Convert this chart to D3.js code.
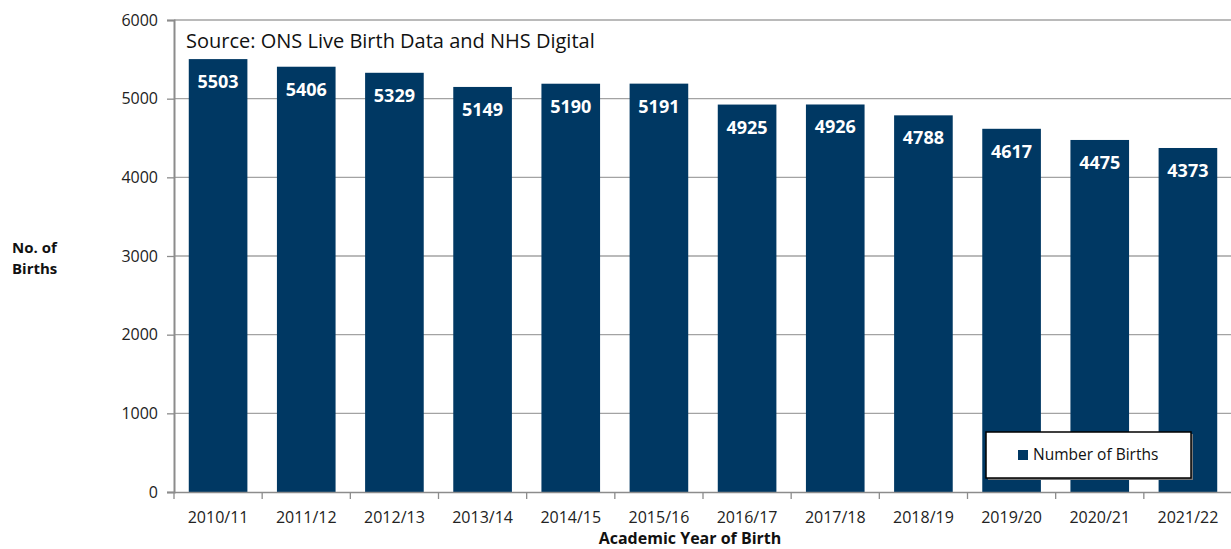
<!DOCTYPE html>
<html>
<head>
<meta charset="utf-8">
<script src="https://cdn.jsdelivr.net/npm/d3@7"></script>
<style>
  body { margin: 0; background: #fff; }
  svg { display: block; font-family: "Open Sans", sans-serif; }
</style>
</head>
<body>
<div id="chart"></div>
<script>
// data
var years = ["2010/11", "2011/12", "2012/13", "2013/14", "2014/15", "2015/16",
             "2016/17", "2017/18", "2018/19", "2019/20", "2020/21", "2021/22"];
var births = [5503, 5406, 5329, 5149, 5190, 5191, 4925, 4926, 4788, 4617, 4475, 4373];
var yTicks = [0, 1000, 2000, 3000, 4000, 5000, 6000];
var seriesName = "Number of Births";
var sourceText = "Source: ONS Live Birth Data and NHS Digital";

var W = 1231, H = 549;
var margin = { top: 20, right: -1, bottom: 57, left: 174 };
var barColor = "#003863";

var svg = d3.select("#chart").append("svg")
    .attr("width", W).attr("height", H);

var x = d3.scaleBand()
    .domain(years)
    .range([margin.left, W - margin.right])
    .paddingInner(0.335)
    .paddingOuter(0.1675);

var y = d3.scaleLinear()
    .domain([0, 6000])
    .range([H - margin.bottom, margin.top]);

// gridlines
svg.append("g")
  .selectAll("line")
  .data(yTicks.filter(function (d) { return d > 0; }))
  .enter().append("line")
    .attr("x1", margin.left).attr("x2", W - margin.right)
    .attr("y1", function (d) { return y(d); })
    .attr("y2", function (d) { return y(d); })
    .attr("stroke", "#a3a3a3")
    .attr("stroke-width", 1.3);

// bars
var bars = svg.append("g").selectAll("g")
    .data(births)
    .enter().append("g");

bars.append("rect")
    .attr("x", function (d, i) { return x(years[i]); })
    .attr("y", function (d) { return y(d); })
    .attr("width", x.bandwidth())
    .attr("height", function (d) { return y(0) - y(d); })
    .attr("fill", barColor);

bars.append("text")
    .text(function (d) { return d; })
    .attr("x", function (d, i) { return x(years[i]) + x.bandwidth() / 2; })
    .attr("y", function (d) { return y(d) + 29; })
    .attr("text-anchor", "middle")
    .attr("fill", "#fff")
    .style("font-weight", "bold")
    .style("font-size", "18px");

// y axis
var yAxis = svg.append("g")
    .attr("transform", "translate(" + margin.left + ",0)")
    .call(d3.axisLeft(y).tickValues(yTicks).tickFormat(d3.format("d")).tickSize(7).tickPadding(9));
yAxis.select(".domain").attr("stroke", "#8c8c8c").attr("stroke-width", 2);
yAxis.selectAll(".tick line").attr("stroke", "#8c8c8c").attr("stroke-width", 1.3);
yAxis.selectAll(".tick text")
    .attr("fill", "#222")
    .style("font-size", "16px")
    .style("font-family", "Open Sans, sans-serif");

// x axis
var xAxis = svg.append("g")
    .attr("transform", "translate(0," + y(0) + ")")
    .call(d3.axisBottom(x).tickSize(0).tickPadding(20));
xAxis.select(".domain").attr("stroke", "#8c8c8c").attr("stroke-width", 1.5);
xAxis.selectAll(".tick text")
    .attr("fill", "#222")
    .style("font-size", "16px")
    .style("font-family", "Open Sans, sans-serif");

// category boundary ticks
var step = x.step();
svg.append("g").selectAll("line")
    .data(d3.range(years.length + 1))
    .enter().append("line")
    .attr("x1", function (i) { return margin.left + i * step; })
    .attr("x2", function (i) { return margin.left + i * step; })
    .attr("y1", y(0)).attr("y2", y(0) + 7)
    .attr("stroke", "#8c8c8c").attr("stroke-width", 1.3);

// source text
svg.append("text")
    .attr("x", 186).attr("y", 48)
    .text(sourceText)
    .attr("fill", "#111")
    .style("font-size", "20px");

// axis titles
var yTitle = svg.append("text")
    .attr("x", 12).attr("y", 253)
    .attr("fill", "#111")
    .style("font-weight", "bold")
    .style("font-size", "15px");
yTitle.append("tspan").attr("x", 12).text("No. of");
yTitle.append("tspan").attr("x", 12).attr("dy", 21).text("Births");

svg.append("text")
    .attr("x", 690).attr("y", 544)
    .attr("text-anchor", "middle")
    .attr("fill", "#111")
    .style("font-weight", "bold")
    .style("font-size", "16px")
    .text("Academic Year of Birth");

// legend
var lg = svg.append("g").attr("transform", "translate(986,432)");
lg.append("rect")
    .attr("x", 2).attr("y", 2).attr("width", 205).attr("height", 46)
    .attr("fill", "#777");
lg.append("rect")
    .attr("width", 205).attr("height", 46)
    .attr("fill", "#fff")
    .attr("stroke", "#000").attr("stroke-width", 1.5);
lg.append("rect")
    .attr("x", 32).attr("y", 18).attr("width", 10).attr("height", 10)
    .attr("fill", barColor);
lg.append("text")
    .attr("x", 47).attr("y", 28)
    .attr("fill", "#111")
    .style("font-size", "15.5px")
    .text(seriesName);
</script>
</body>
</html>
